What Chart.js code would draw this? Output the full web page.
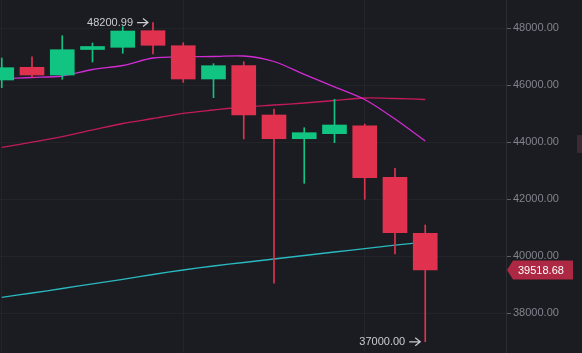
<!DOCTYPE html>
<html lang="en">
<head>
    <meta charset="UTF-8">
    <title>BTC candles</title>
    <script src="https://cdn.jsdelivr.net/npm/chart.js"></script>
    <style>
        html, body { margin: 0; padding: 0; background: #1b1c21; }
        #wrap { width: 582px; height: 353px; position: relative; }
    </style>
</head>
<body>
    <div id="wrap"><canvas id="candleChart"></canvas></div>
    <script>
        // candle data, one entry per bar
        const opens  = [46186, 46632, 46361, 47256, 47333, 47916, 47389, 46221, 46688, 44958, 44126, 44302, 44582, 42772, 40807];
        const closes = [46618, 46361, 47249, 47361, 47905, 47404, 46221, 46688, 44958, 44126, 44337, 44607, 42758, 40828, 39518.68];
        const highs  = [46958, 47003, 47740, 47484, 48056, 48200.99, 47495, 46758, 46828, 45168, 44512, 45509, 44642, 43088, 41098];
        const lows   = [45916, 46267, 46211, 46818, 47123, 47098, 46105, 45565, 44116, 39053, 42561, 43986, 42000, 40081, 37000];

        // moving averages
        const maShort = [46232, 46274, 46326, 46554, 46695, 46958, 47003, 47011, 47028, 46835, 46382, 45944, 45502, 44817, 44046];
        const maMid   = [43821, 44003, 44203, 44432, 44660, 44835, 45018, 45133, 45239, 45309, 45379, 45467, 45554, 45537, 45502];
        const maLong  = [38558, 38712, 38870, 39035, 39193, 39361, 39519, 39660, 39782, 39905, 40028, 40151, 40270, 40389, 40502];

        const yTicks = [38000, 40000, 42000, 44000, 46000, 48000];
        const xGridAt = [0, 6, 12];

        const UP = '#12c481';
        const DOWN = '#e0324f';

        const idx = opens.map((_, i) => i);
        const colors = idx.map(i => closes[i] >= opens[i] ? UP : DOWN);

        const markers = {
            id: 'markers',
            afterDatasetsDraw(chart) {
                const { ctx, scales: { x, y } } = chart;
                ctx.save();
                ctx.font = '11px "Liberation Sans", Arial, sans-serif';
                ctx.textBaseline = 'middle';

                // highest high and lowest low labels
                const hi = highs.indexOf(Math.max(...highs));
                const lo = lows.indexOf(Math.min(...lows));
                [[hi, highs[hi]], [lo, lows[lo]]].forEach(([i, v]) => {
                    const px = x.getPixelForValue(i) - 5;
                    const py = y.getPixelForValue(v);
                    ctx.strokeStyle = '#c9cbd0';
                    ctx.fillStyle = '#c9cbd0';
                    ctx.lineWidth = 1.2;
                    ctx.beginPath();
                    ctx.moveTo(px - 11, py);
                    ctx.lineTo(px, py);
                    ctx.moveTo(px - 5, py - 4);
                    ctx.lineTo(px, py);
                    ctx.lineTo(px - 5, py + 4);
                    ctx.stroke();
                    ctx.textAlign = 'right';
                    ctx.fillText(v.toFixed(2), px - 15, py);
                });

                // last price tag on the axis
                const last = closes[closes.length - 1];
                const ty = y.getPixelForValue(last);
                const left = chart.chartArea.right + 1;
                ctx.fillStyle = '#ad2943';
                ctx.beginPath();
                ctx.moveTo(left, ty);
                ctx.lineTo(left + 6, ty - 9.5);
                ctx.lineTo(left + 66, ty - 9.5);
                ctx.lineTo(left + 66, ty + 9.5);
                ctx.lineTo(left + 6, ty + 9.5);
                ctx.closePath();
                ctx.fill();
                ctx.fillStyle = '#ffffff';
                ctx.textAlign = 'left';
                ctx.fillText(last.toFixed(2), left + 11, ty + 0.5);

                // little scroll handle on the far right
                ctx.fillStyle = '#3b2a31';
                ctx.fillRect(chart.width - 5, 135, 5, 18);
                ctx.restore();
            }
        };

        const ctx = document.getElementById('candleChart').getContext('2d');
        new Chart(ctx, {
            type: 'bar',
            data: {
                datasets: [
                    {
                        label: 'wick',
                        data: idx.map(i => ({ x: i, y: [lows[i], highs[i]] })),
                        backgroundColor: colors,
                        barThickness: 1,
                        grouped: false,
                        order: 1
                    },
                    {
                        label: 'body',
                        data: idx.map(i => ({ x: i, y: [opens[i], closes[i]] })),
                        backgroundColor: colors,
                        barThickness: 24,
                        grouped: false,
                        order: 0
                    },
                    {
                        type: 'line',
                        label: 'MA7',
                        data: idx.map(i => ({ x: i, y: maShort[i] })),
                        borderColor: '#d22bd4',
                        borderWidth: 1.3,
                        pointRadius: 0,
                        tension: 0.3,
                        order: 2
                    },
                    {
                        type: 'line',
                        label: 'MA25',
                        data: idx.map(i => ({ x: i, y: maMid[i] })),
                        borderColor: '#c21a5c',
                        borderWidth: 1.3,
                        pointRadius: 0,
                        tension: 0.3,
                        order: 2
                    },
                    {
                        type: 'line',
                        label: 'MA99',
                        data: idx.map(i => ({ x: i, y: maLong[i] })),
                        borderColor: '#2ab9c0',
                        borderWidth: 1.3,
                        pointRadius: 0,
                        tension: 0.3,
                        order: 2
                    }
                ]
            },
            options: {
                responsive: true,
                maintainAspectRatio: false,
                animation: false,
                layout: { padding: 0 },
                plugins: {
                    legend: { display: false },
                    tooltip: { enabled: false }
                },
                scales: {
                    x: {
                        type: 'linear',
                        offset: false,
                        min: -0.058,
                        max: 16.67,
                        afterBuildTicks: s => { s.ticks = xGridAt.map(v => ({ value: v })); },
                        afterFit: s => { s.height = 0; s.paddingLeft = 0; s.paddingRight = 0; },
                        ticks: { display: false },
                        grid: { offset: false, color: 'rgba(255,255,255,0.035)', drawTicks: false },
                        border: { display: false }
                    },
                    y: {
                        position: 'right',
                        min: 36607,
                        max: 48993,
                        afterBuildTicks: s => { s.ticks = yTicks.map(v => ({ value: v })); },
                        afterFit: s => { s.width = 76; s.paddingTop = 0; s.paddingBottom = 0; },
                        ticks: {
                            color: '#80848c',
                            padding: 2,
                            font: { family: '"Liberation Sans", Arial, sans-serif', size: 11 },
                            callback: v => v.toFixed(2)
                        },
                        grid: {
                            color: 'rgba(255,255,255,0.035)',
                            tickColor: '#5d6068',
                            tickLength: 5
                        },
                        border: { color: '#2c2d34' }
                    }
                }
            },
            plugins: [markers]
        });
    </script>
</body>
</html>
